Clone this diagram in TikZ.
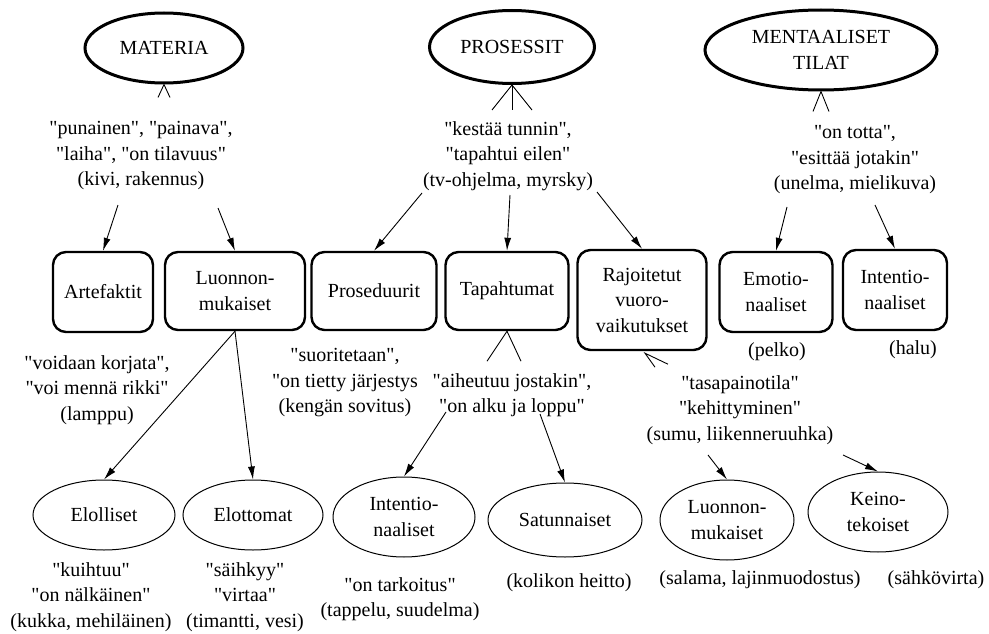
\documentclass[tikz,border=0pt]{standalone}
\usepackage{fontspec}
% a Times-like serif, without TeX ligature mapping so that " stays straight
\IfFontExistsTF{LiberationSerif-Regular.ttf}
  {\newfontfamily\diafont{LiberationSerif-Regular.ttf}}
  {\newfontfamily\diafont{Liberation Serif}}
\usetikzlibrary{shapes.geometric,arrows.meta,calc}
\begin{document}
\begin{tikzpicture}[x=1pt,y=-1pt,
  every node/.style={font=\diafont\fontsize{20}{25.5}\selectfont, inner sep=1pt},
  topcat/.style={ellipse, draw, line width=3pt, inner sep=0pt, align=center},
  kind/.style={draw, line width=2.4pt, rounded corners=13pt, align=center, inner sep=0pt},
  sub/.style={ellipse, draw, line width=1pt, align=center, inner sep=0pt},
  note/.style={align=center},
  arr/.style={line width=0.9pt, -{Latex[length=13pt,width=7pt]}},
  barb/.style={line width=0.9pt},
]
\useasboundingbox (0,0) rectangle (989,634);

% top-level categories
\node[topcat, minimum width=158pt, minimum height=70pt] (mat) at (164,48) {MATERIA};
\node[topcat, minimum width=165pt, minimum height=73pt] (pro) at (512,47) {PROSESSIT};
\node[topcat, minimum width=232pt, minimum height=80pt] (men) at (821,50) {MENTAALISET\\TILAT};

% descriptions of the top-level categories
\node[note] (matd) at (141,156) {"punainen", "painava",\\"laiha", "on tilavuus"\\(kivi, rakennus)};
\node[note] (prod) at (508,156) {"kestää tunnin",\\"tapahtui eilen"\\(tv-ohjelma, myrsky)};
\node[note] (mend) at (855,160) {"on totta",\\"esittää jotakin"\\(unelma, mielikuva)};

% second level
\node[kind, minimum width=100pt, minimum height=80pt] (art) at (103,292) {Artefaktit};
\node[kind, minimum width=140pt, minimum height=78pt] (luo) at (235,291) {Luonnon-\\mukaiset};
\node[kind, minimum width=125pt, minimum height=78pt] (prs) at (374,291) {Proseduurit};
\node[kind, minimum width=123pt, minimum height=78pt] (tap) at (507,291) {Tapahtumat};
\node[kind, minimum width=129pt, minimum height=100pt] (raj) at (642,300) {Rajoitetut\\vuoro-\\vaikutukset};
\node[kind, minimum width=113pt, minimum height=80pt] (emo) at (776,292) {Emotio-\\naaliset};
\node[kind, minimum width=104pt, minimum height=80pt] (itn) at (895,290) {Intentio-\\naaliset};

% descriptions of the second level
\node[note] (artd) at (97,390) {"voidaan korjata",\\"voi mennä rikki"\\(lamppu)};
\node[note] (prsd) at (345,383) {"suoritetaan",\\"on tietty järjestys\\(kengän sovitus)};
\node[note] (tapd) at (512,395) {"aiheutuu jostakin",\\"on alku ja loppu"};
\node[note] (rajd) at (740,410) {"tasapainotila"\\"kehittyminen"\\(sumu, liikenneruuhka)};
\node[note] (emod) at (777,352) {(pelko)};
\node[note] (itnd) at (913,350) {(halu)};

% third level
\node[sub, minimum width=142pt, minimum height=70pt] (elo) at (104,515) {Elolliset};
\node[sub, minimum width=140pt, minimum height=70pt] (elt) at (253,515) {Elottomat};
\node[sub, minimum width=142pt, minimum height=80pt] (iab) at (404,517) {Intentio-\\naaliset};
\node[sub, minimum width=154pt, minimum height=74pt] (sat) at (565,520) {Satunnaiset};
\node[sub, minimum width=134pt, minimum height=80pt] (lmb) at (727,520) {Luonnon-\\mukaiset};
\node[sub, minimum width=140pt, minimum height=80pt] (kei) at (878,512) {Keino-\\tekoiset};

% descriptions of the third level
\node[note] (elod) at (91,597) {"kuihtuu"\\"on nälkäinen"\\(kukka, mehiläinen)};
\node[note] (eltd) at (245,597) {"säihkyy"\\"virtaa"\\(timantti, vesi)};
\node[note] (iabd) at (400,599) {"on tarkoitus"\\(tappelu, suudelma)};
\node[note] (satd) at (569,583) {(kolikon heitto)};
\node[note] (lmbd) at (760,580) {(salama, lajinmuodostus)};
\node[note] (keid) at (936,580) {(sähkövirta)};

% open arrowheads pointing from the descriptions up to their concepts
\draw[barb] ($(mat.south)+(-6,13)$) -- (mat.south) -- ($(mat.south)+(6,13)$);
\draw[barb] ($(pro.south)+(-20,25)$) -- (pro.south) -- ($(pro.south)+(20,25)$);
\draw[barb] ($(pro.south)+(0,25)$) -- (pro.south);
\draw[barb] ($(men.south)+(-8,20)$) -- (men.south) -- ($(men.south)+(8,20)$);
\draw[barb] ($(tap.south)+(-20,30)$) -- (tap.south) -- ($(tap.south)+(14,30)$);
\draw[barb] ($(raj.south)+(26,13)$) -- ($(raj.south)+(3,2)$) -- ($(raj.south)+(13,16)$);

% subdivisions
\draw[arr] ($(matd)+(-23,49)$) -- (art.north);
\draw[arr] ($(matd)+(77,52)$) -- (luo.north);
\draw[arr] ($(prod)+(-86,37)$) -- (prs.north);
\draw[arr] ($(prod)+(2,39)$) -- (tap.north);
\draw[arr] ($(prod)+(89,36)$) -- (raj.north);
\draw[arr] ($(mend)+(-68,47)$) -- (emo.north);
\draw[arr] ($(mend)+(20,45)$) -- (itn.north);
\draw[arr] (luo.south) -- (elo.north);
\draw[arr] (luo.south) -- (elt.north);
\draw[arr] ($(tapd)+(-66,17)$) -- (iab.north);
\draw[arr] ($(tapd)+(28,19)$) -- (sat.north);
\draw[arr] ($(rajd)+(-32,45)$) -- (lmb.north);
\draw[arr] ($(rajd)+(103,45)$) -- (kei.north);
\end{tikzpicture}
\end{document}
